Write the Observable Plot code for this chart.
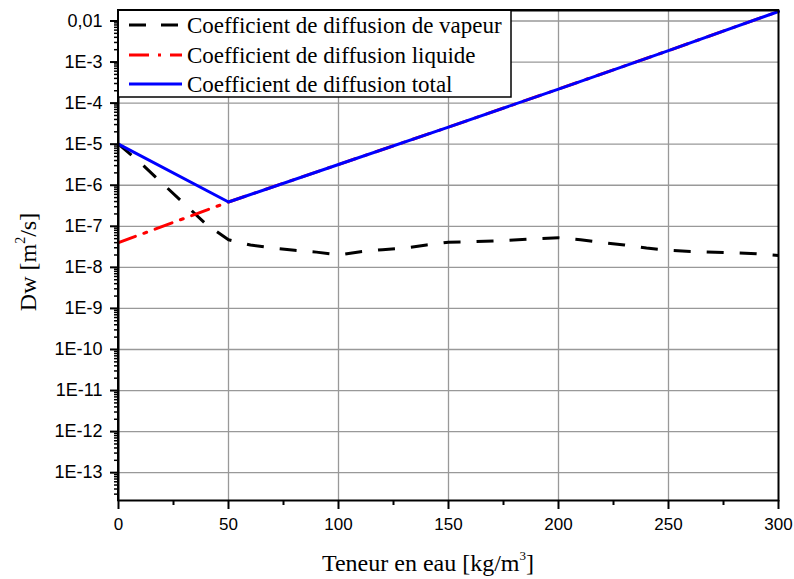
<!DOCTYPE html>
<html><head><meta charset="utf-8">
<script src="https://cdn.jsdelivr.net/npm/d3@7"></script>
<script src="https://cdn.jsdelivr.net/npm/@observablehq/plot@0.6"></script>
<style>
html,body{margin:0;padding:0;background:#fff;}
#chart svg{display:block;}
</style>
</head><body><div id="chart"></div>
<script>
// ---- data ----
const vapourX = [0,10,20,30,40,50,60,70,80,90,100,110,120,130,140,150,160,175,190,200,210,220,230,240,250,260,275,290,300];
const vapourD = [1e-5,3.5e-6,1.1e-6,3.5e-7,1.1e-7,4.7e-8,3.5e-8,2.95e-8,2.6e-8,2.35e-8,2.0e-8,2.4e-8,2.7e-8,2.95e-8,3.5e-8,4.1e-8,4.2e-8,4.5e-8,5.0e-8,5.25e-8,4.7e-8,4.0e-8,3.5e-8,2.95e-8,2.6e-8,2.45e-8,2.3e-8,2.15e-8,1.95e-8];
const liquidX = [0,50,100,150,200,250,300];
const liquidD = [4e-8,3.9e-7,3.2e-6,2.6e-5,2.2e-4,1.9e-3,1.7e-2];
const totalX = [0,50,100,150,200,250,300];
const totalD = [1e-5,3.9e-7,3.2e-6,2.6e-5,2.2e-4,1.9e-3,1.7e-2];
const seriesNames = ["Coefficient de diffusion de vapeur","Coefficient de diffusion liquide","Coefficient de diffusion total"];
const xTicks = [0,50,100,150,200,250,300];
const xMinorTicks = [25,75,125,175,225,275];
const xGrid = [50,100,150,200,250];
const yTicks = [1e-2,1e-3,1e-4,1e-5,1e-6,1e-7,1e-8,1e-9,1e-10,1e-11,1e-12,1e-13];
const yTickLabels = ["0,01","1E-3","1E-4","1E-5","1E-6","1E-7","1E-8","1E-9","1E-10","1E-11","1E-12","1E-13"];
const xTitle = "Teneur en eau [kg/m";
const yTitle = "Dw [m";

// ---- build tables ----
const vapour = vapourX.map((x,i)=>({x, d: vapourD[i]}));
const liquid = liquidX.map((x,i)=>({x, d: liquidD[i]}));
const total = totalX.map((x,i)=>({x, d: totalD[i]}));
const yDomain = [2.1e-14, 0.018];
const yMinor = [];
for (let k = -14; k <= -2; k++) for (let m = 2; m <= 9; m++) {
  const v = m * Math.pow(10, k);
  if (v >= yDomain[0] && v <= yDomain[1]) yMinor.push(v);
}

const styles = [
  {stroke:"#000", dash:"17,16"},
  {stroke:"#ff0000", dash:"18,9,3,9"},
  {stroke:"#0000ff", dash:null}
];

const chart = Plot.plot({
  width: 794, height: 579,
  marginTop: 10, marginRight: 16, marginBottom: 79, marginLeft: 118,
  style: {fontFamily: "'Liberation Sans', Arial, sans-serif", fontSize: "17px", color: "#000", background: "#fff"},
  x: {domain: [0, 300]},
  y: {type: "log", domain: yDomain},
  marks: [
    Plot.gridX(xGrid, {stroke: "#999", strokeOpacity: 1, strokeWidth: 1.3}),
    Plot.gridY(yTicks, {stroke: "#999", strokeOpacity: 1, strokeWidth: 1.3}),
    Plot.line(vapour, {x: "x", y: "d", stroke: styles[0].stroke, strokeWidth: 3, strokeDasharray: styles[0].dash, strokeLinecap: "butt"}),
    Plot.line(liquid, {x: "x", y: "d", stroke: styles[1].stroke, strokeWidth: 3, strokeDasharray: styles[1].dash}),
    Plot.line(total, {x: "x", y: "d", stroke: styles[2].stroke, strokeWidth: 3}),
    Plot.axisX(xTicks, {tickSize: 9, tickPadding: 8, strokeWidth: 2, fontSize: 17, tickFormat: d => String(d), label: null}),
    Plot.axisX(xMinorTicks, {tickSize: 5, strokeWidth: 2, tickFormat: () => "", label: null}),
    Plot.axisY(yTicks, {tickSize: 8, tickPadding: 8, strokeWidth: 2, fontSize: 18, tickFormat: d => yTickLabels[yTicks.indexOf(d)], label: null}),
    Plot.axisY(yMinor, {tickSize: 4, strokeWidth: 1.5, tickFormat: () => "", label: null}),
    Plot.frame({stroke: "#000", strokeWidth: 2})
  ]
});
document.getElementById("chart").appendChild(chart);

// ---- legend & titles ----
const svg = d3.select(chart);
const serif = "'Liberation Serif', 'Times New Roman', serif";
const lg = svg.append("g").attr("text-anchor", "start");
lg.append("rect").attr("x", 118).attr("y", 10).attr("width", 393).attr("height", 87)
  .attr("fill", "#fff").attr("stroke", "#000").attr("stroke-width", 1.5);
const rowY = [25, 55, 84];
const legendDash = ["17,15", "20,9,3,9", null];
seriesNames.forEach((name, i) => {
  const l = lg.append("line").attr("x1", 129).attr("x2", 182).attr("y1", rowY[i]).attr("y2", rowY[i])
    .attr("stroke", styles[i].stroke).attr("stroke-width", 3);
  if (legendDash[i]) l.attr("stroke-dasharray", legendDash[i]);
  lg.append("text").attr("x", 187).attr("y", rowY[i]).attr("dy", "0.35em").attr("text-anchor", "start")
    .style("font-family", serif).style("font-size", "23px").attr("fill", "#000").text(name);
});
// frame top/left over legend
svg.append("line").attr("x1",117).attr("x2",779).attr("y1",10).attr("y2",10).attr("stroke","#000").attr("stroke-width",2);
svg.append("line").attr("x1",118).attr("x2",118).attr("y1",9).attr("y2",501).attr("stroke","#000").attr("stroke-width",2);

const xt = svg.append("text").attr("x", 428).attr("y", 571).attr("text-anchor", "middle")
  .style("font-family", serif).style("font-size", "24px").attr("fill", "#000");
xt.append("tspan").text(xTitle);
xt.append("tspan").style("font-size", "13px").attr("dy", -11).text("3");
xt.append("tspan").attr("dy", 11).text("]");

const yt = svg.append("text").attr("transform", "translate(36,262) rotate(-90)").attr("text-anchor", "middle")
  .style("font-family", serif).style("font-size", "24px").attr("fill", "#000");
yt.append("tspan").text(yTitle);
yt.append("tspan").style("font-size", "14px").attr("dy", -11).text("2");
yt.append("tspan").attr("dy", 11).text("/s]");
</script>
</body></html>
